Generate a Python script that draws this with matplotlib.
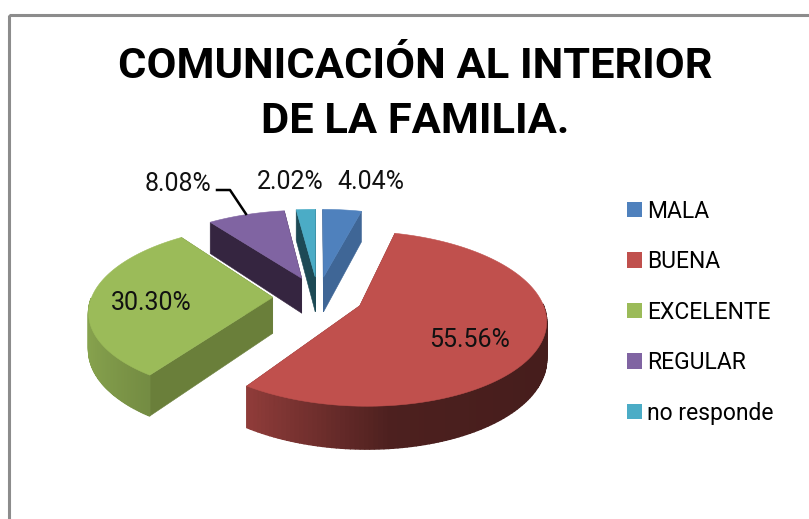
import matplotlib
matplotlib.use('Agg')
import matplotlib.pyplot as plt
import numpy as np
from matplotlib.colors import to_rgb
from matplotlib.patches import Polygon, Rectangle, Patch

categorias = ['MALA', 'BUENA', 'EXCELENTE', 'REGULAR', 'no responde']
valores = [4.04, 55.56, 30.30, 8.08, 2.02]
colores = ['#4F81BD', '#C0504D', '#9BBB59', '#8064A2', '#4BACC6']
caras = ['#3F6696', '#7A3230', '#6A7F3A', '#352540', '#1D4A55']
titulo = 'COMUNICACIÓN AL INTERIOR\nDE LA FAMILIA.'

plt.rcParams['font.family'] = ['Roboto', 'Liberation Sans']

# perspective used to flatten the pie (pixel coordinates)
CX, CY = 318, 297
RX, RY = 181, 83
P = 0.146
PROF = 36


def proyecta(u, v):
    s = 1 / (1 + P * v)
    return CX + RX * u * s, CY - RY * v * s


def proyecta_abajo(u, v):
    x, y = proyecta(u, v)
    return x, y + PROF / (1 + P * v)


def sombra(u):
    # side of the pie gets darker from left to right
    return np.interp(u, [-1, -0.55, 0.1, 1], [0.88, 0.74, 0.4, 0.36])


fig = plt.figure(figsize=(8.09, 5.19), dpi=100)
ax = fig.add_axes([0, 0, 1, 1])
wedges, _ = ax.pie(valores, explode=[0.25] * 5, startangle=90, counterclock=False, radius=1)
ax.set_aspect('auto')
ax.set_xlim(0, 809)
ax.set_ylim(519, 0)
ax.axis('off')

ax.add_patch(Rectangle((9.5, 14.5), 900, 600, fill=False, ec='#8C8C8C', lw=2.2, zorder=0))

orden = [4, 0, 3, 2, 1]
for i in orden:
    w = wedges[i]
    cu, cv = w.center
    w.remove()
    t = np.radians(np.linspace(w.theta1, w.theta2, 160))
    u = cu + np.cos(t)
    v = cv + np.sin(t)
    z = 2 + orden.index(i)
    # cut faces first, the front of the arc covers them
    for j in [0, -1]:
        pts = [proyecta(cu, cv), proyecta(u[j], v[j]),
               proyecta_abajo(u[j], v[j]), proyecta_abajo(cu, cv)]
        ax.add_patch(Polygon(pts, fc=caras[i], ec=caras[i], lw=0.4, zorder=z))
    # arc side, strip by strip for the gradient
    for k in range(len(t) - 1):
        if np.sin(t[k]) > 0:
            continue
        pts = [proyecta(u[k], v[k]), proyecta(u[k + 1], v[k + 1]),
               proyecta_abajo(u[k + 1], v[k + 1]), proyecta_abajo(u[k], v[k])]
        c = np.array(to_rgb(colores[i])) * sombra(np.cos(t[k]))
        ax.add_patch(Polygon(pts, fc=c, ec=c, lw=1, zorder=z + 0.2))
    # top
    tapa = [proyecta(cu, cv)] + [proyecta(a, b) for a, b in zip(u, v)]
    ax.add_patch(Polygon(tapa, fc=colores[i], ec=colores[i], lw=0.4, zorder=z + 0.5))

ax.text(415, 94, titulo, ha='center', va='center', fontsize=31.2, fontweight='bold',
        color='black', linespacing=1.42, zorder=10)

pos_etiquetas = [(371, 182), (470, 340), (151, 303), (178, 184), (290, 182)]
for val, (x, y) in zip(valores, pos_etiquetas):
    ax.text(x, y, f'{val:.2f}%', ha='center', va='center', fontsize=18, color='#111111', zorder=10)

ax.plot([217, 230, 246], [190, 190, 214], color='black', lw=1.8, zorder=10)

manijas = [Patch(fc=c, ec='none') for c in colores]
ax.legend(manijas, categorias, loc='upper left', bbox_to_anchor=(627 / 809, 1 - 199.5 / 519),
          frameon=False, fontsize=16.5, handlelength=0.65, handleheight=0.65,
          handletextpad=0.22, labelspacing=1.2, borderpad=0, borderaxespad=0)

fig.savefig('out.png', dpi=100)
